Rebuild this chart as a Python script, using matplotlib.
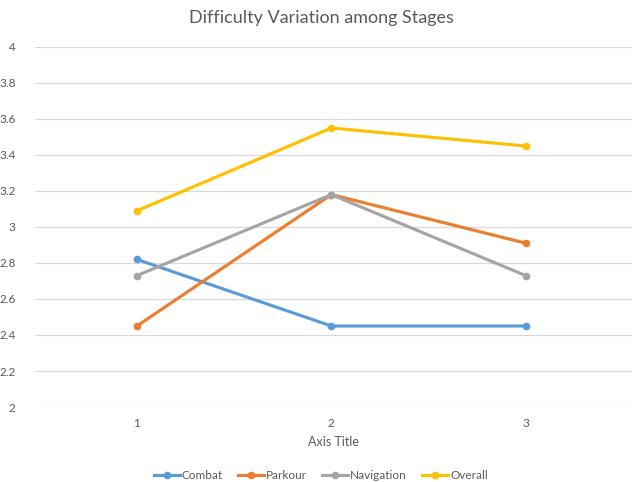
import matplotlib
matplotlib.use('Agg')
import matplotlib.pyplot as plt

# data
stages = [1, 2, 3]
combat = [2.82, 2.45, 2.45]
parkour = [2.45, 3.18, 2.91]
navigation = [2.73, 3.18, 2.73]
overall = [3.09, 3.55, 3.45]

series = [('Combat', combat, '#5B9BD5'),
          ('Parkour', parkour, '#ED7D31'),
          ('Navigation', navigation, '#A5A5A5'),
          ('Overall', overall, '#FFC000')]

plt.rcParams['font.family'] = ['Lato', 'DejaVu Sans']
txt = '#595959'

fig = plt.figure(figsize=(6.42, 4.82), dpi=100)
ax = fig.add_axes([0.0545, 0.1556, 0.9295, 0.7469])

for name, vals, col in series:
    ax.plot(stages, vals, color=col, lw=2.25, marker='o', ms=4.5, label=name)

ax.set_xlim(0.4756, 3.545)
ax.set_ylim(2, 4)
ax.set_yticks([2, 2.2, 2.4, 2.6, 2.8, 3, 3.2, 3.4, 3.6, 3.8, 4])
ax.set_yticklabels(['2', '2.2', '2.4', '2.6', '2.8', '3', '3.2', '3.4', '3.6', '3.8', '4'])
ax.set_xticks(stages)
ax.grid(axis='y', color='#D9D9D9', lw=0.9)
ax.set_axisbelow(True)
for s in ax.spines.values():
    s.set_visible(False)
ax.tick_params(length=0, labelsize=8.5, colors=txt, pad=8)
ax.tick_params(axis='y', pad=14)
ax.set_xlabel('Axis Title', fontsize=9, color=txt, labelpad=5)
fig.suptitle('Difficulty Variation among Stages', fontsize=13, color=txt, y=0.98)

fig.legend(loc='lower center', ncol=4, frameon=False, fontsize=8.5,
           labelcolor=txt, bbox_to_anchor=(0.5, -0.02), handlelength=2.2,
           columnspacing=1.3, handletextpad=0.15)

fig.savefig('out.png', dpi=100)
